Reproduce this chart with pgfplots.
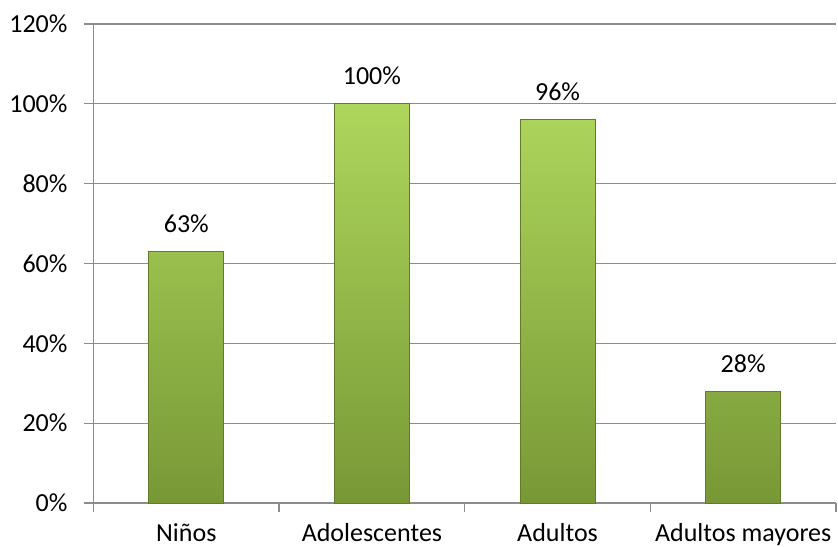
\documentclass[border=0pt]{standalone}
\usepackage{fontspec}
\setmainfont{Carlito}
\usepackage{pgfplots}
\pgfplotsset{compat=1.18}
\definecolor{gridgray}{HTML}{8C8C8C}
\definecolor{bartop}{HTML}{AED65C}
\definecolor{barbot}{HTML}{789836}
\definecolor{baredge}{HTML}{5F7D28}
\begin{document}
\begin{tikzpicture}
\newcommand{\lblfont}{\fontsize{26bp}{31bp}\selectfont}
\begin{axis}[
  name=ax,
  scale only axis,
  width=742.5bp, height=479bp,
  ymin=0, ymax=120,
  xmin=-0.5, xmax=3.5,
  ytick={0,20,40,60,80,100,120},
  yticklabel={\pgfmathprintnumber{\tick}\%},
  /pgf/number format/assume math mode=true,
  xtick={-0.5,0.5,1.5,2.5,3.5},
  xticklabels={Niños,Adolescentes,Adultos,Adultos mayores},
  x tick label as interval,
  tick align=outside,
  major tick length=9.5bp,
  tick style={gridgray, line width=1.3bp},
  ymajorgrids,
  grid style={gridgray, line width=1.3bp},
  axis x line*=bottom,
  axis y line*=left,
  axis line style={gridgray, line width=1.3bp},
  ticklabel style={font=\lblfont, text=black},
  yticklabel style={xshift=-13bp},
  xticklabel style={inner sep=0.5bp, yshift=-10bp},
  bar width=75bp,
  ybar,
  nodes near coords={\pgfmathprintnumber{\pgfplotspointmeta}\%},
  every node near coord/.append style={font=\lblfont, text=black, yshift=15bp},
  clip=false,
]
\addplot[draw=baredge, line width=0.8bp, top color=bartop, bottom color=barbot]
  coordinates {(0,63) (1,100) (2,96) (3,28)};
\end{axis}
\pgfresetboundingbox
\path ([shift={(-93.5bp,-44bp)}]ax.south west) rectangle ([shift={(2bp,24bp)}]ax.north east);
\end{tikzpicture}
\end{document}
